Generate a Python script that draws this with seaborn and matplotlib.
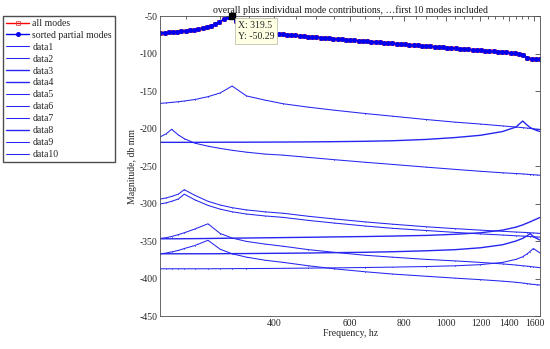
import matplotlib
matplotlib.use("Agg")
import matplotlib.pyplot as plt
import seaborn as sns
from matplotlib.ticker import FixedLocator, NullFormatter

# frequency grid of the summed response (Hz)
freq = [218.0, 223.0, 228.0, 233.2, 238.5, 243.9, 249.5, 255.2, 261.0, 266.9,
        273.0, 279.2, 285.5, 292.0, 298.7, 305.5, 312.4, 319.5, 326.8, 334.2,
        341.8, 349.6, 357.5, 365.7, 374.0, 382.5, 391.2, 400.1, 409.2, 418.5,
        428.0, 437.7, 447.7, 457.8, 468.3, 478.9, 489.8, 500.9, 512.3, 524.0,
        535.9, 548.1, 560.5, 573.3, 586.3, 599.6, 613.3, 627.2, 641.5, 656.1,
        671.0, 686.3, 701.9, 717.8, 734.1, 750.8, 767.9, 785.4, 803.2, 821.5,
        840.2, 859.3, 878.8, 898.8, 919.3, 940.2, 961.5, 983.4, 1005.8, 1028.6,
        1052.0, 1076.0, 1100.4, 1125.4, 1151.0, 1177.2, 1204.0, 1231.4, 1259.4, 1288.0,
        1317.3, 1347.2, 1377.9, 1409.2, 1441.3, 1474.0, 1507.6, 1541.8, 1576.9, 1612.8,
        1649.4]

sum_db = [-72.3, -72.0, -71.6, -71.2, -70.8, -70.3, -69.8, -69.1, -68.3, -67.3,
          -66.1, -64.6, -62.7, -60.4, -57.6, -54.5, -51.8, -50.29, -57.0, -62.0,
          -65.5, -68.0, -69.8, -71.2, -72.2, -73.0, -73.5, -73.8, -74.0, -74.5,
          -75.0, -75.4, -75.9, -76.3, -76.8, -77.3, -77.7, -78.2, -78.7, -79.1,
          -79.6, -80.0, -80.5, -81.0, -81.4, -81.9, -82.3, -82.8, -83.2, -83.7,
          -84.1, -84.6, -85.0, -85.5, -85.9, -86.4, -86.8, -87.3, -87.7, -88.2,
          -88.6, -89.1, -89.5, -90.0, -90.4, -90.9, -91.3, -91.8, -92.2, -92.7,
          -93.1, -93.6, -94.0, -94.5, -94.9, -95.4, -95.8, -96.3, -96.7, -97.2,
          -97.6, -98.1, -98.5, -99.0, -99.4, -100.0, -101.5, -105.5, -107.2, -107.3,
          -107.3]

# individual mode contributions, sampled coarser
freq_modes = [218, 225, 231.5, 240, 247.6, 262, 281, 300, 319.5, 345, 380, 420, 480,
              550, 650, 750, 900, 1050, 1200, 1350, 1450, 1503, 1540, 1563, 1591, 1620, 1649]

data1 = [-166.4, -165.8, -165.1, -164.2, -163.3, -161.3, -157.5, -152.5, -143.3, -156.5,
         -162.0, -167.0, -171.5, -175.5, -180.0, -183.5, -188.0, -191.5, -194.0, -196.5,
         -198.0, -198.8, -199.4, -199.8, -200.3, -200.7, -201.1]
data2 = [-211.0, -207.0, -201.0, -208.5, -213.5, -219.5, -223.5, -226.5, -229.0, -231.5,
         -234.0, -235.5, -238.5, -241.5, -245.0, -247.8, -251.5, -254.5, -257.0, -259.0,
         -260.0, -260.5, -261.0, -261.3, -261.6, -261.9, -262.2]
data3 = [-218.4, -218.4, -218.4, -218.4, -218.4, -218.4, -218.3, -218.3, -218.2, -218.2,
         -218.1, -218.0, -217.8, -217.5, -217.0, -216.3, -214.5, -212.0, -209.0, -204.0,
         -198.0, -190.0, -195.5, -198.5, -200.8, -202.6, -204.0]
data4 = [-347.0, -347.0, -347.0, -347.0, -346.9, -346.8, -346.6, -346.4, -346.2, -346.0,
         -345.7, -345.4, -345.0, -344.5, -344.0, -343.4, -342.5, -341.0, -339.0, -335.5,
         -331.5, -328.5, -326.0, -324.5, -322.5, -320.5, -318.5]
data5 = [-294.0, -292.5, -290.5, -287.5, -281.5, -289.0, -297.0, -302.0, -305.5, -308.5,
         -311.0, -313.0, -317.0, -320.5, -324.5, -327.5, -331.0, -333.5, -335.5, -337.0,
         -338.0, -338.4, -338.7, -339.0, -339.2, -339.5, -339.8]
data6 = [-300.5, -299.0, -297.0, -294.0, -287.5, -295.0, -302.5, -307.5, -311.0, -314.0,
         -316.5, -318.5, -322.5, -326.0, -330.0, -333.0, -336.0, -338.5, -340.5, -342.0,
         -343.0, -343.4, -343.7, -344.0, -344.2, -344.5, -344.8]
data7 = [-346.5, -345.5, -344.0, -341.5, -339.0, -334.0, -327.0, -340.0, -346.0, -350.5,
         -354.0, -357.0, -361.5, -365.0, -369.0, -371.5, -374.5, -376.5, -378.5, -380.5,
         -382.0, -383.0, -383.5, -384.0, -384.5, -385.0, -385.5]
data8 = [-367.0, -367.0, -367.0, -367.0, -367.0, -367.0, -367.0, -366.9, -366.8, -366.7,
         -366.5, -366.3, -366.0, -365.5, -365.0, -364.3, -363.0, -361.5, -359.0, -355.0,
         -350.0, -346.5, -343.0, -340.0, -344.0, -346.5, -348.7]
data9 = [-367.0, -366.0, -364.5, -362.5, -360.0, -356.0, -349.0, -361.0, -367.0, -371.5,
         -375.5, -378.5, -383.0, -387.0, -391.0, -394.0, -397.0, -399.5, -401.5, -403.5,
         -405.0, -406.0, -406.8, -407.3, -407.8, -408.3, -408.7]
data10 = [-387.0, -387.0, -387.0, -387.0, -387.0, -387.0, -387.0, -386.9, -386.8, -386.7,
          -386.6, -386.4, -386.1, -385.8, -385.3, -384.8, -384.0, -383.0, -381.5, -378.5,
          -374.5, -371.0, -367.0, -364.0, -360.0, -363.0, -366.0]

modes = [data1, data2, data3, data4, data5, data6, data7, data8, data9, data10]
thick = [False, False, True, True, False, False, False, True, False, False]

x_ticks = [400, 600, 800, 1000, 1200, 1400, 1600]
x_minor = [f for f in range(250, 1650, 50) if f not in x_ticks]
y_ticks = [-450, -400, -350, -300, -250, -200, -150, -100, -50]

sns.set_style("white")
plt.rcParams["font.family"] = ["Liberation Serif", "DejaVu Serif"]
plt.rcParams["font.size"] = 7

fig = plt.figure(figsize=(5.5, 3.49), dpi=100)
ax = fig.add_axes([0.2915, 0.0945, 0.6905, 0.8595])

sns.lineplot(x=freq, y=sum_db, ax=ax, color="red", lw=1.0, marker="s", ms=3.0,
             mfc="none", mec="#e03030", mew=0.5, label="all modes", estimator=None, sort=False)
sns.lineplot(x=freq, y=sum_db, ax=ax, color="#0000ee", lw=1.0, marker="o", ms=3.6,
             mec="#0000ee", mew=0, label="sorted partial modes", estimator=None, sort=False)

blue = "#2626f0"
for i, (d, t) in enumerate(zip(modes, thick)):
    if t:
        sns.lineplot(x=freq_modes, y=d, ax=ax, color=blue, lw=1.0,
                     label=f"data{i + 1}", estimator=None, sort=False)
    else:
        sns.lineplot(x=freq_modes, y=d, ax=ax, color=blue, lw=0.75, marker=".",
                     ms=1.0, mec=blue, mfc=blue, mew=0,
                     label=f"data{i + 1}", estimator=None, sort=False)

ax.set_xscale("log")
ax.set_xlim(218, 1649.4)
ax.set_ylim(-450, -50)
ax.set_xticks(x_ticks)
ax.set_xticklabels([str(t) for t in x_ticks])
ax.xaxis.set_minor_locator(FixedLocator(x_minor))
ax.xaxis.set_minor_formatter(NullFormatter())
ax.set_yticks(y_ticks)
ax.set_yticklabels([str(t) for t in y_ticks])

ax.tick_params(which="both", direction="in", top=True, right=True, width=0.5,
               colors="#262626", labelsize=7, pad=2)
ax.tick_params(which="major", length=3.5)
ax.tick_params(which="minor", length=2.2)
for s in ax.spines.values():
    s.set_color("#4d4d4d")
    s.set_linewidth(0.6)

ax.set_title("overall plus individual mode contributions, \u2026first 10 modes included",
             fontsize=7, pad=2, color="#1a1a1a")
ax.set_xlabel("Frequency, hz", fontsize=7, labelpad=1, color="#262626")
ax.set_ylabel("Magnitude, db mm", fontsize=7, labelpad=2, color="#262626")

# data tip at the peak
ax.plot([319.5], [-50.29], marker="s", color="black", ms=4, clip_on=False, zorder=10)
ax.annotate("X: 319.5\nY: -50.29", xy=(319.5, -50.29), xytext=(6, -5),
            textcoords="offset pixels", ha="left", va="top", fontsize=7,
            bbox=dict(boxstyle="square,pad=0.3", fc="#ffffe4", ec="#b4b4a0", lw=0.5),
            zorder=11)

handles, labels = ax.get_legend_handles_labels()
if ax.get_legend() is not None:
    ax.get_legend().remove()
fig.legend(handles, labels, loc="upper left", bbox_to_anchor=(3 / 550, 1 - 16 / 349),
           fontsize=7, frameon=True, fancybox=False, edgecolor="#4d4d4d", framealpha=1,
           handlelength=2.4, labelspacing=0.3, borderpad=0.3, handletextpad=0.3,
           borderaxespad=0)

fig.savefig("out.png", dpi=100)
plt.close()
